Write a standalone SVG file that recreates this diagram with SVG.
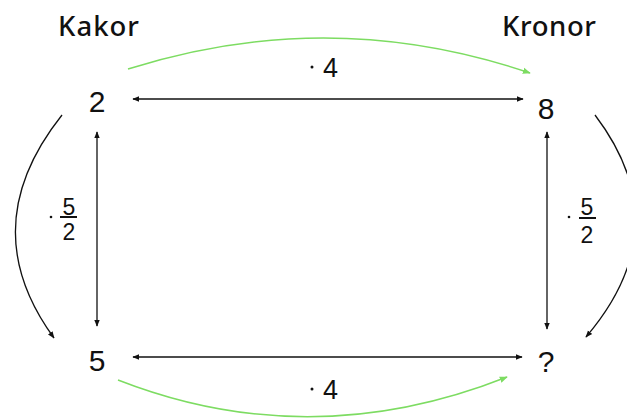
<svg xmlns="http://www.w3.org/2000/svg" width="627" height="419" viewBox="0 0 627 419">
<style>
.h{font-family:"Noto Sans","Open Sans",sans-serif;font-size:27.5px;font-weight:500;fill:#111}
.n{font-family:"Liberation Sans",Arial,sans-serif;font-size:30px;fill:#111;text-anchor:middle}
.l{font-family:"Liberation Sans",Arial,sans-serif;font-size:27px;fill:#111}
.f{font-family:"Liberation Sans",Arial,sans-serif;font-size:23px;fill:#111;text-anchor:middle}
.k{fill:none;stroke:#111;stroke-width:1.3}
.g{fill:none;stroke:#7ddc62;stroke-width:1.5}
</style>
<defs>
<marker id="ak" viewBox="0 0 10 10" refX="9" refY="5" markerWidth="7" markerHeight="7" orient="auto-start-reverse" markerUnits="userSpaceOnUse"><path d="M0,1 L10,5 L0,9 Z" fill="#111"/></marker>
<marker id="ag" viewBox="0 0 10 10" refX="9" refY="5" markerWidth="8" markerHeight="8" orient="auto" markerUnits="userSpaceOnUse"><path d="M0,1 L10,5 L0,9 Z" fill="#7ddc62"/></marker>
</defs>
<g id="headers">
<text class="h" x="58" y="36" textLength="81" lengthAdjust="spacing">Kakor</text>
<text class="h" x="502" y="36" textLength="94" lengthAdjust="spacing">Kronor</text>
</g>
<g id="node-2"><text class="n" x="97" y="112">2</text></g>
<g id="node-8"><text class="n" x="546" y="119">8</text></g>
<g id="node-5"><text class="n" x="97" y="371">5</text></g>
<g id="node-q"><text class="n" x="546" y="372">?</text></g>
<g id="connectors">
<line class="k" x1="133" y1="99" x2="523" y2="99" marker-start="url(#ak)" marker-end="url(#ak)"/>
<line class="k" x1="133" y1="357" x2="522" y2="357" marker-start="url(#ak)" marker-end="url(#ak)"/>
<line class="k" x1="97" y1="132" x2="97" y2="326" marker-start="url(#ak)" marker-end="url(#ak)"/>
<line class="k" x1="547" y1="132" x2="547" y2="329" marker-start="url(#ak)" marker-end="url(#ak)"/>
<path class="g" d="M128,69 Q330,5 530,73" marker-end="url(#ag)"/>
<path class="g" d="M118,380 Q310,455 507,377" marker-end="url(#ag)"/>
<path class="k" d="M62,115 Q-27,227 54,338" marker-end="url(#ak)"/>
<path class="k" d="M595,115 Q680,227 586,337" marker-end="url(#ak)"/>
</g>
<g id="labels">
<circle cx="312" cy="67" r="1.5" fill="#111"/>
<text class="l" x="323" y="77">4</text>
<circle cx="312" cy="389" r="1.5" fill="#111"/>
<text class="l" x="323" y="399">4</text>
<circle cx="51" cy="217" r="1.3" fill="#111"/>
<text class="f" x="69" y="215">5</text>
<line x1="60" y1="217" x2="77" y2="217" stroke="#111" stroke-width="2"/>
<text class="f" x="69" y="240">2</text>
<circle cx="569" cy="217" r="1.3" fill="#111"/>
<text class="f" x="587" y="215">5</text>
<line x1="579" y1="218" x2="596" y2="218" stroke="#111" stroke-width="2"/>
<text class="f" x="587" y="243">2</text>
</g>
</svg>
